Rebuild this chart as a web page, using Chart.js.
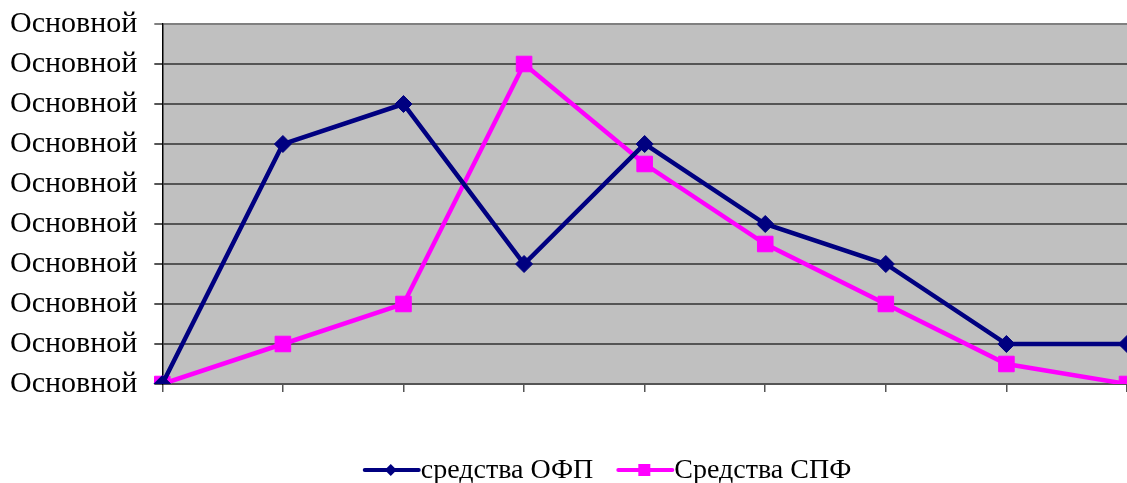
<!DOCTYPE html>
<html>
<head>
<meta charset="utf-8">
<script src="https://cdn.jsdelivr.net/npm/chart.js@4/dist/chart.umd.min.js"></script>
<style>
  html, body { margin: 0; padding: 0; background: #fff; }
  #wrap { width: 1127px; height: 483px; position: relative; }
</style>
</head>
<body>
<div id="wrap"><canvas id="chart"></canvas></div>
<script>
const categories = ['1', '2', '3', '4', '5', '6', '7', '8', '9'];
const ofpValues = [0, 6, 7, 3, 6, 4, 3, 1, 1];
const spfValues = [0, 1, 2, 8, 5.5, 3.5, 2, 0.5, 0];
const yTickLabel = 'Основной';
const seriesNames = ['средства ОФП', 'Средства СПФ'];

const navy = '#000080';
const magenta = '#FF00FF';
const fontFamily = '"Liberation Serif", "Times New Roman", serif';

const plotBg = {
    id: 'plotBg',
    beforeDraw(chart) {
        let a = chart.chartArea;
        let ctx = chart.ctx;
        ctx.save();
        ctx.fillStyle = '#C0C0C0';
        ctx.fillRect(a.left, a.top, a.right - a.left, a.bottom - a.top);
        ctx.restore();
    }
};

// legend below the chart: line sample with marker, then the series name
const bottomLegend = {
    id: 'bottomLegend',
    afterDraw(chart) {
        let ctx = chart.ctx;
        let sampleLen = 56;
        let gap = 23;
        let y = 470;
        ctx.save();
        ctx.font = '28px ' + fontFamily;
        let widths = chart.data.datasets.map(ds => sampleLen + 2 + ctx.measureText(ds.label).width);
        let total = widths.reduce((a, b) => a + b, 0) + gap * (widths.length - 1);
        let x = 607 - total / 2;
        chart.data.datasets.forEach((ds, i) => {
            ctx.strokeStyle = ds.borderColor;
            ctx.fillStyle = ds.borderColor;
            ctx.lineWidth = 4;
            ctx.lineCap = 'round';
            ctx.beginPath();
            ctx.moveTo(x + 2, y);
            ctx.lineTo(x + sampleLen, y);
            ctx.stroke();
            let cx = x + sampleLen / 2;
            ctx.beginPath();
            if (ds.pointStyle === 'rectRot') {
                ctx.moveTo(cx, y - 6);
                ctx.lineTo(cx + 6, y);
                ctx.lineTo(cx, y + 6);
                ctx.lineTo(cx - 6, y);
                ctx.closePath();
            } else {
                ctx.rect(cx - 6, y - 6, 12, 12);
            }
            ctx.fill();
            ctx.fillStyle = '#000';
            ctx.textBaseline = 'middle';
            ctx.textAlign = 'left';
            ctx.fillText(ds.label, x + sampleLen + 2, y + 1);
            x += widths[i] + gap;
        });
        ctx.restore();
    }
};

let ctx = document.getElementById('chart').getContext('2d');
let myChart = new Chart(ctx, {
    type: 'line',
    data: {
        labels: categories,
        datasets: [
            {
                label: seriesNames[0],
                data: ofpValues,
                borderColor: navy,
                backgroundColor: navy,
                borderWidth: 4.5,
                pointStyle: 'rectRot',
                pointRadius: 8.5,
                pointBorderWidth: 1,
                tension: 0
            },
            {
                label: seriesNames[1],
                data: spfValues,
                borderColor: magenta,
                backgroundColor: magenta,
                borderWidth: 4.5,
                pointStyle: 'rect',
                pointRadius: 11,
                pointBorderWidth: 1,
                tension: 0
            }
        ]
    },
    options: {
        responsive: true,
        maintainAspectRatio: false,
        animation: false,
        layout: {
            autoPadding: false,
            padding: { left: -7, right: -7, top: 24, bottom: 91 }
        },
        scales: {
            x: {
                offset: false,
                border: { display: false },
                grid: {
                    drawOnChartArea: false,
                    drawTicks: true,
                    tickLength: 8,
                    color: '#555',
                    lineWidth: 1.5
                },
                ticks: { display: false }
            },
            y: {
                min: 0,
                max: 9,
                afterFit: scale => {
                    scale.paddingTop = 0;
                    scale.paddingBottom = 0;
                },
                border: { display: true, color: '#000', width: 1.5 },
                grid: {
                    color: ctx => ctx.index === 9 ? '#808080' : '#555',
                    lineWidth: 2,
                    tickLength: 8
                },
                ticks: {
                    stepSize: 1,
                    autoSkip: false,
                    padding: 17,
                    color: '#000',
                    font: { family: fontFamily, size: 30, lineHeight: 1 },
                    callback: () => yTickLabel
                }
            }
        },
        plugins: {
            legend: { display: false },
            tooltip: { enabled: false }
        }
    },
    plugins: [plotBg, bottomLegend]
});
</script>
</body>
</html>
